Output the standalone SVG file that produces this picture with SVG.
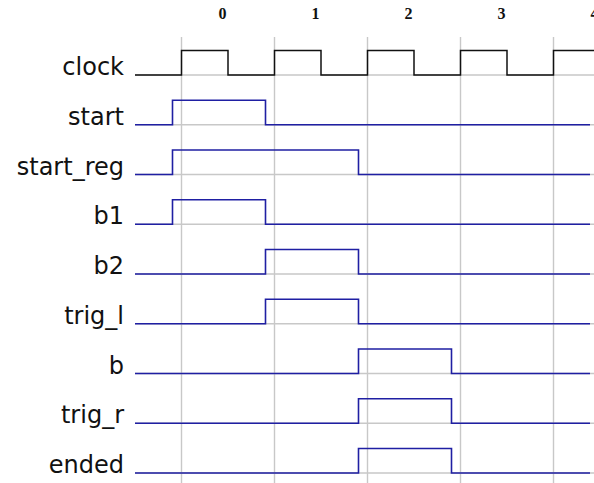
<svg xmlns="http://www.w3.org/2000/svg" width="594" height="483" viewBox="0 0 594 483">
<style>
.grid{stroke:#c8c8c8;stroke-width:1.4;fill:none}
.sig{stroke:#1f1fa3;stroke-width:1.6;fill:none}
.clk{stroke:#111;stroke-width:1.5;fill:none}
.lbl{font-family:"DejaVu Sans",sans-serif;font-size:24px;fill:#111;text-anchor:end}
.tick{font-family:"Liberation Serif",serif;font-weight:bold;font-size:16px;fill:#111;text-anchor:middle}
</style>
<rect width="594" height="483" fill="#fff"/>
<g id="grid">
<path class="grid" d="M181.5,37V483M274.5,37V483M367.5,37V483M460.5,37V483M553.5,37V483"/>
<path class="grid" d="M135,75H594M135,124.75H594M135,174.5H594M135,224.25H594M135,274H594M135,323.75H594M135,373.5H594M135,423.25H594M135,473H594"/>
</g>
<g id="ticks">
<text class="tick" x="222.5" y="18.5">0</text>
<text class="tick" x="315.5" y="18.5">1</text>
<text class="tick" x="408.5" y="18.5">2</text>
<text class="tick" x="501.5" y="18.5">3</text>
<text class="tick" x="594.5" y="18.5">4</text>
</g>
<g id="clock">
<text class="lbl" x="124" y="75">clock</text>
<path class="clk" d="M135,75H181.5V50.5H228V75H274.5V50.5H321V75H367.5V50.5H414V75H460.5V50.5H507V75H553.5V50.5H594"/>
</g>
<g id="start">
<text class="lbl" x="124" y="124.75">start</text>
<path class="sig" d="M135,124.75H172.5V100.25H265.5V124.75H590"/>
</g>
<g id="start_reg">
<text class="lbl" x="124" y="174.5">start_reg</text>
<path class="sig" d="M135,174.5H172.5V150H358.5V174.5H590"/>
</g>
<g id="b1">
<text class="lbl" x="124" y="224.25">b1</text>
<path class="sig" d="M135,224.25H172.5V199.75H265.5V224.25H590"/>
</g>
<g id="b2">
<text class="lbl" x="124" y="274">b2</text>
<path class="sig" d="M135,274H265.5V249.5H358.5V274H590"/>
</g>
<g id="trig_l">
<text class="lbl" x="124" y="323.75">trig_l</text>
<path class="sig" d="M135,323.75H265.5V299.25H358.5V323.75H590"/>
</g>
<g id="b">
<text class="lbl" x="124" y="373.5">b</text>
<path class="sig" d="M135,373.5H358.5V349H451.5V373.5H590"/>
</g>
<g id="trig_r">
<text class="lbl" x="124" y="423.25">trig_r</text>
<path class="sig" d="M135,423.25H358.5V398.75H451.5V423.25H590"/>
</g>
<g id="ended">
<text class="lbl" x="124" y="473">ended</text>
<path class="sig" d="M135,473H358.5V448.5H451.5V473H590"/>
</g>
<g id="connectors"></g>
</svg>
